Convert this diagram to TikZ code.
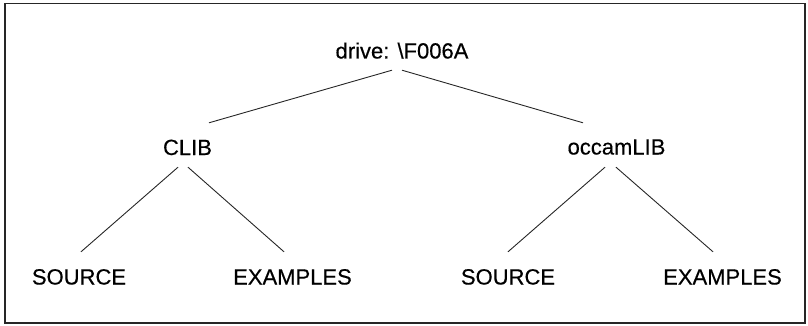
\documentclass[tikz,border=0pt]{standalone}
\usepackage{fontspec}
\setmainfont{Liberation Sans}
\newfontfamily\treefont{Liberation Sans}[FakeBold=0.35]
\begin{document}
\begin{tikzpicture}[x=1pt,y=-1pt,
  dirnode/.style={inner sep=0pt,text height=16pt,text depth=0pt,
    font=\treefont\fontsize{22}{24}\selectfont,text=black},
  link/.style={line width=0.9pt,black!85}]
\useasboundingbox (0,0) rectangle (808,326);
% outer frame
\draw[line width=1.6pt,black!85] (5,3.5) rectangle (805,323);

% directory tree
\node[dirnode] (root)  at (402,50.5)  {drive: \textbackslash F006A};
\node[dirnode] (clib)  at (187.5,147) {CLIB};
\node[dirnode] (occam) at (616.5,146.5) {occamLIB};
\node[dirnode] (src1)  at (79,276.5)  {SOURCE};
\node[dirnode] (ex1)   at (292.5,276.5) {EXAMPLES};
\node[dirnode] (src2)  at (508,276.5) {SOURCE};
\node[dirnode] (ex2)   at (722.5,276.5) {EXAMPLES};

\draw[link] ([xshift=-10pt,yshift=-11.5pt]root.south) -- ([xshift=21.5pt,yshift=16pt]clib.north);
\draw[link] ([xshift=0pt,yshift=-11.5pt]root.south) -- ([xshift=-33.5pt,yshift=15.5pt]occam.north);

\draw[link] ([xshift=-9.5pt,yshift=-12pt]clib.south) -- ([xshift=2pt,yshift=16.5pt]src1.north);
\draw[link] ([xshift=0.5pt,yshift=-12pt]clib.south) -- ([xshift=-8.5pt,yshift=16.5pt]ex1.north);

\draw[link] ([xshift=-11.5pt,yshift=-12.5pt]occam.south) -- ([xshift=0pt,yshift=16.5pt]src2.north);
\draw[link] ([xshift=-0.5pt,yshift=-12.5pt]occam.south) -- ([xshift=-9.5pt,yshift=16.5pt]ex2.north);
\end{tikzpicture}
\end{document}
